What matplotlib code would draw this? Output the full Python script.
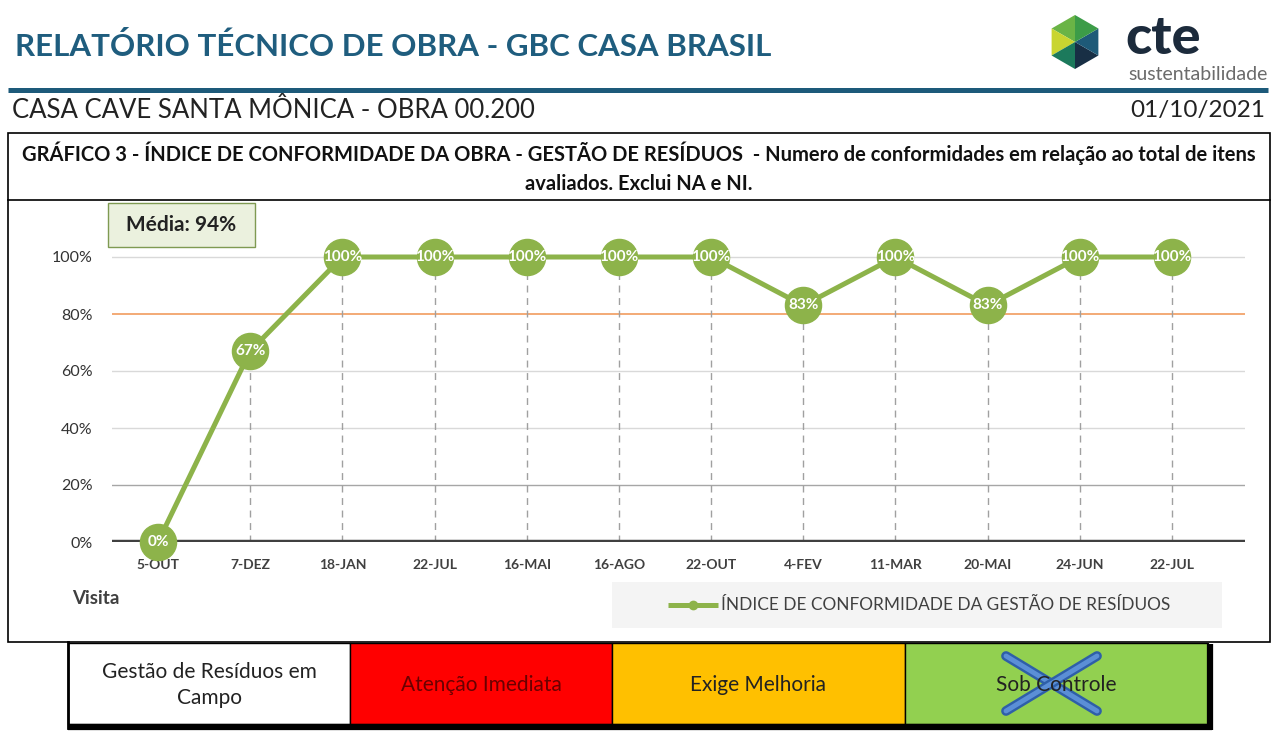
import numpy as np
import matplotlib.pyplot as plt
from matplotlib.patches import Rectangle, Polygon

plt.rcParams['font.family'] = ['Lato', 'DejaVu Sans']

visits = ["5-OUT", "7-DEZ", "18-JAN", "22-JUL", "16-MAI", "16-AGO",
          "22-OUT", "4-FEV", "11-MAR", "20-MAI", "24-JUN", "22-JUL"]
conformidade = [0, 67, 100, 100, 100, 100, 100, 83, 100, 83, 100, 100]
meta = 80
media = 94
yticks = [0, 20, 40, 60, 80, 100]
status_labels = ["Gestão de Resíduos em\nCampo", "Atenção Imediata", "Exige Melhoria", "Sob Controle"]
status_colors = ["#ffffff", "#ff0000", "#ffc000", "#92d050"]
status_edges = [68, 350, 612, 905, 1208]

W, H = 1280, 734
GREEN = "#8db34a"
fig = plt.figure(figsize=(W / 100, H / 100), dpi=100)

# overlay in pixel coords (top-left origin) for the report decorations
ov = fig.add_axes([0, 0, 1, 1], zorder=0)
ov.set_xlim(0, W)
ov.set_ylim(H, 0)
ov.axis("off")

ov.text(15, 47, "RELATÓRIO TÉCNICO DE OBRA - GBC CASA BRASIL", fontsize=22.5, fontweight="bold",
        color="#1f5d7e", va="center", ha="left")
ov.plot([8, 1268], [90, 90], color="#1d5a7a", lw=3.6, solid_capstyle="butt")

# logo
cx, cy, r = 1075, 42, 27
ang = np.deg2rad(np.arange(90, 450, 60))
pts = [(cx + r * np.cos(a), cy - r * np.sin(a)) for a in ang]
hex_cols = ["#6ab446", "#c9d530", "#1c7a5c", "#182f45", "#1e5a78", "#3c9c48"]
for i in range(6):
    ov.add_patch(Polygon([(cx, cy), pts[i], pts[(i + 1) % 6]], closed=True, color=hex_cols[i], lw=0))
ov.text(1125, 38, "cte", fontsize=39, fontweight="black", color="#1c2b3c", va="center", ha="left")
ov.text(1268, 75, "sustentabilidade", fontsize=14, color="#6b6b6b", va="center", ha="right")

ov.text(12, 111, "CASA CAVE SANTA MÔNICA - OBRA 00.200", fontsize=18.5, color="#222222", va="center")
ov.text(1265, 111, "01/10/2021", fontsize=17.5, color="#222222", va="center", ha="right")

# chart frame
ov.add_patch(Rectangle((8, 133), 1262, 509, fill=False, ec="black", lw=1.2))
ov.plot([8, 1270], [200, 200], color="black", lw=1.2)
ov.text(639, 153, "GRÁFICO 3 - ÍNDICE DE CONFORMIDADE DA OBRA - GESTÃO DE RESÍDUOS  - Numero de conformidades em relação ao total de itens",
        fontsize=14.5, fontweight="bold", color="#111111", ha="center", va="center")
ov.text(639, 184, "avaliados. Exclui NA e NI.", fontsize=14.5, fontweight="bold", color="#111111",
        ha="center", va="center")

ov.add_patch(Rectangle((108, 203), 147, 44, fc="#ebf1de", ec="#7f9a52", lw=1))
ov.text(181, 225, f"Média: {media}%", fontsize=15, fontweight="bold", color="#222222", ha="center", va="center")

ov.text(72, 599, "Visita", fontsize=13.5, fontweight="bold", color="#404040", va="center")

ov.add_patch(Rectangle((612, 582), 610, 46, fc="#f4f4f4", ec="none"))
ov.plot([668, 718], [605, 605], color=GREEN, lw=3.6, solid_capstyle="butt")
ov.plot([693], [605], "o", color=GREEN, ms=6)
ov.text(721, 605, "ÍNDICE DE CONFORMIDADE DA GESTÃO DE RESÍDUOS", fontsize=12.4, color="#404040", va="center")

# status table
for i, (lab, col) in enumerate(zip(status_labels, status_colors)):
    x0, x1 = status_edges[i], status_edges[i + 1]
    ov.add_patch(Rectangle((x0, 643), x1 - x0, 81, fc=col, ec="black", lw=1))
    tcol = "#6a0000" if i == 1 else "#222222"
    ov.text((x0 + x1) / 2, 685, lab, fontsize=15, color=tcol, ha="center", va="center", linespacing=1.4)
ov.plot([68, 68], [642, 728], color="black", lw=2)
ov.plot([1210, 1210], [644, 730], color="black", lw=4.5, solid_capstyle="butt")
ov.plot([68, 1212], [727, 727], color="black", lw=4.5, solid_capstyle="butt")
for seg in [((1006, 1097), (656, 711)), ((1097, 1006), (656, 711))]:
    ov.plot(seg[0], seg[1], color="#2e5fa8", lw=7, solid_capstyle="round")
    ov.plot(seg[0], seg[1], color="#5b8fd6", lw=3.5, solid_capstyle="round")

# plot axes
left, right, bottom, top = 112, 1245, 542, 230
ax = fig.add_axes([left / W, (H - bottom) / H, (right - left) / W, (bottom - top) / H], zorder=1)
ax.patch.set_alpha(0)
x = np.arange(len(visits))
step = (1172 - 158) / 11
ax.set_xlim(-(158 - left) / step, (right - 158) / step)
ax.set_ylim(0, (bottom - top) / 2.85)

for yv in yticks:
    if yv == meta:
        continue
    if yv == 0:
        continue
    ax.axhline(yv, color="#a6a6a6" if yv == 20 else "#d9d9d9", lw=1, zorder=1)
ax.axhline(meta, color="#f2a46b", lw=1.3, zorder=2)
ax.vlines(x, 0, conformidade, colors="#a0a0a0", linestyles=(0, (5, 4)), lw=1, zorder=2)
ax.axhline(0, color="#404040", lw=3.2, zorder=3)
ax.plot(x, conformidade, color=GREEN, lw=3.6, marker="o", ms=26, mfc=GREEN, mec=GREEN,
        zorder=4, clip_on=False)
for xi, v in zip(x, conformidade):
    ax.text(xi, v, f"{v}%", color="white", fontsize=11, fontweight="bold", ha="center", va="center", zorder=5)

ax.set_yticks(yticks)
ax.set_yticklabels([f"{v}%" for v in yticks], fontsize=11.5, color="#333333")
ax.set_xticks(x)
ax.set_xticklabels(visits, fontsize=10, fontweight="bold", color="#404040")
ax.tick_params(axis="y", length=0, pad=14)
ax.tick_params(axis="x", length=0, pad=12)
for s in ax.spines.values():
    s.set_visible(False)

fig.savefig("out.png", dpi=100)
